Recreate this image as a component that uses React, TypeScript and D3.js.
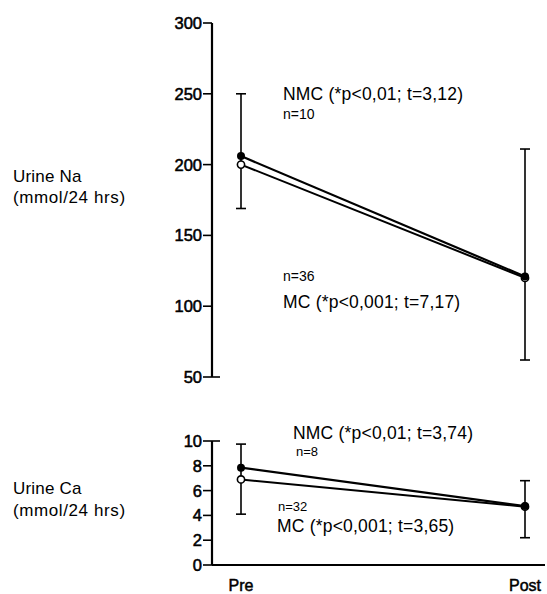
import React from 'react'
import {scaleLinear, scalePoint, line} from 'd3'

// time points
const phases = ['Pre', 'Post']

// Urine Na (mmol/24 hrs)
const naTicks = [50, 100, 150, 200, 250, 300]
const naNMC = [206, 121]
const naMC = [200, 120]
const naErrLo = [169, 62]
const naErrHi = [250, 211]

// Urine Ca (mmol/24 hrs)
const caTicks = [0, 2, 4, 6, 8, 10]
const caNMC = [7.85, 4.75]
const caMC = [6.9, 4.7]
const caErrLo = [4.1, 2.2]
const caErrHi = [9.75, 6.8]

const font = '"Liberation Sans", Arial, sans-serif'

export default function App() {
  const axisX = 212
  const x = scalePoint<string>().domain(phases).range([241, 525])

  const yNa = scaleLinear().domain([50, 300]).range([377, 23])
  const yCa = scaleLinear().domain([0, 10]).range([565, 441])

  const panel = (y, ticks, nmc, mc, lo, hi, key, extendFirst) => {
    const mkLine = vals =>
      line<number>()
        .x((d, i) => x(phases[i]))
        .y(d => y(d))(vals)
    return (
      <g key={key}>
        {/* y axis */}
        <line x1={axisX} x2={axisX} y1={y(ticks[ticks.length - 1])} y2={y(ticks[0])} stroke="#000" strokeWidth={2.2} />
        {ticks.map((t, i) => (
          <g key={t}>
            <line
              x1={axisX - 9}
              x2={axisX + (i === extendFirst ? 8 : 0)}
              y1={y(t)}
              y2={y(t)}
              stroke="#000"
              strokeWidth={1.6}
            />
            <text x={axisX - 10} y={y(t)} dy="0.36em" textAnchor="end" fontSize={16.5} fontFamily={font} fill="#000" stroke="#000" strokeWidth={0.55}>
              {t}
            </text>
          </g>
        ))}
        {/* error bars */}
        {phases.map((p, i) => (
          <g key={p} stroke="#000" strokeWidth={1.6}>
            <line x1={x(p)} x2={x(p)} y1={y(hi[i])} y2={y(lo[i])} />
            <line x1={x(p) - 5} x2={x(p) + 5} y1={y(hi[i])} y2={y(hi[i])} />
            <line x1={x(p) - 5} x2={x(p) + 5} y1={y(lo[i])} y2={y(lo[i])} />
          </g>
        ))}
        <path d={mkLine(nmc)} fill="none" stroke="#000" strokeWidth={2.2} />
        <path d={mkLine(mc)} fill="none" stroke="#000" strokeWidth={2} />
        {mc.map((v, i) => (
          <circle key={'mc' + i} cx={x(phases[i])} cy={y(v)} r={3.6} fill="#fff" stroke="#000" strokeWidth={1.6} />
        ))}
        {nmc.map((v, i) => (
          <circle key={'nmc' + i} cx={x(phases[i])} cy={y(v)} r={4} fill="#000" />
        ))}
      </g>
    )
  }

  const txt = (s, tx, ty, size, k, ls = 0) => (
    <text key={k} x={tx} y={ty} fontSize={size} fontFamily={font} fill="#000" letterSpacing={ls}>
      {s}
    </text>
  )

  return (
    <svg width={547} height={594} style={{position: 'absolute', left: 0, top: 0, background: '#fff'}}>
      <rect width={547} height={594} fill="#fff" />
      {panel(yNa, naTicks, naNMC, naMC, naErrLo, naErrHi, 'na', 0)}
      {panel(yCa, caTicks, caNMC, caMC, caErrLo, caErrHi, 'ca', 5)}

      {/* x axis of lower panel */}
      <line x1={axisX} x2={545} y1={yCa(0)} y2={yCa(0)} stroke="#000" strokeWidth={2.2} />
      {phases.map(p => (
        <text key={p} x={x(p)} y={591} textAnchor="middle" fontSize={16} fontFamily={font} fill="#000" stroke="#000" strokeWidth={0.5}>
          {p}
        </text>
      ))}

      {/* left labels */}
      {txt('Urine Na', 13, 182, 17, 'l1', 0.2)}
      {txt('(mmol/24 hrs)', 13, 203, 17, 'l2', 0.6)}
      {txt('Urine Ca', 13, 494, 17, 'l3', 0.2)}
      {txt('(mmol/24 hrs)', 13, 516, 17, 'l4', 0.6)}

      {/* annotations */}
      {txt('NMC (*p<0,01; t=3,12)', 283, 100, 17.5, 'a1', 0.2)}
      {txt('n=10', 283, 119, 14, 'a2')}
      {txt('n=36', 283, 281, 14, 'a3')}
      {txt('MC (*p<0,001; t=7,17)', 283, 308, 17.5, 'a4', 0.2)}
      {txt('NMC (*p<0,01; t=3,74)', 293, 439, 17.5, 'a5', 0.2)}
      {txt('n=8', 296, 456, 13, 'a6')}
      {txt('n=32', 278, 511, 13, 'a7')}
      {txt('MC (*p<0,001; t=3,65)', 277, 532, 17.5, 'a8', 0.2)}
    </svg>
  )
}
